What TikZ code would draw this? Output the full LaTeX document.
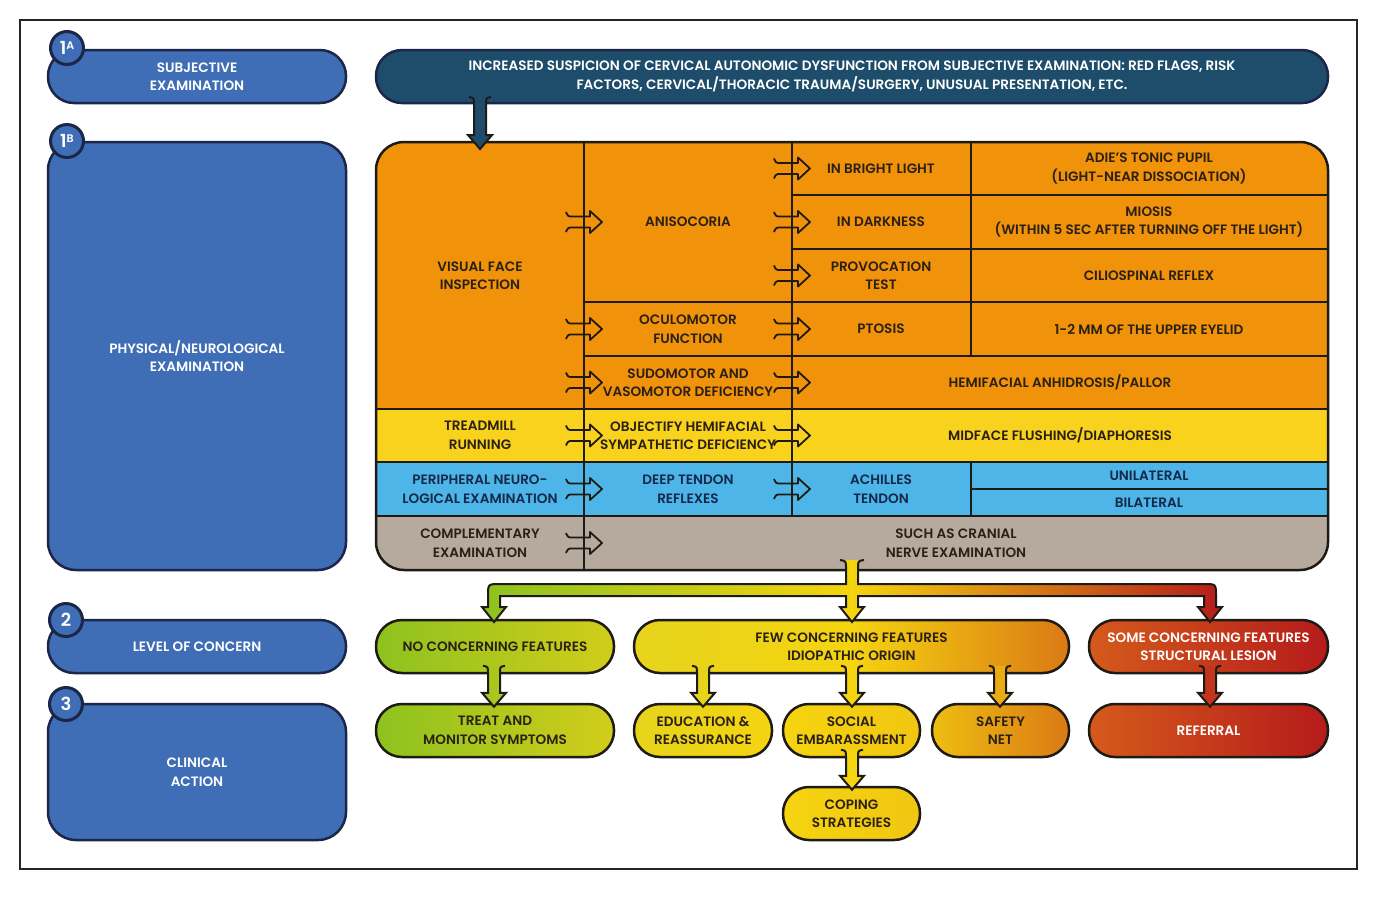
\documentclass[tikz,border=0pt]{standalone}
\usepackage{fontspec}
\setmainfont{Poppins}[BoldFont=* SemiBold]
\usetikzlibrary{calc}
\definecolor{lblue}{HTML}{3F6EB6}
\definecolor{navy}{HTML}{1B2648}
\definecolor{topteal}{HTML}{1E4D6B}
\definecolor{orng}{HTML}{F0920A}
\definecolor{yel}{HTML}{F8D21C}
\definecolor{sky}{HTML}{4EB5E8}
\definecolor{cgray}{HTML}{B5AA9D}
\definecolor{ink}{HTML}{2B2014}
\definecolor{skyink}{HTML}{14284A}
\definecolor{lineink}{HTML}{1E1A14}
\definecolor{cgreen}{HTML}{8DC21F}
\definecolor{cgreenR}{HTML}{D2CD1A}
\definecolor{cyelL}{HTML}{E6D41C}
\definecolor{cyel}{HTML}{F5D410}
\definecolor{corange}{HTML}{DA7A15}
\definecolor{credL}{HTML}{D55A1B}
\definecolor{cred}{HTML}{B51B1B}
\newcommand{\fs}{\bfseries\fontsize{13.6}{18.5}\selectfont}
\newcommand{\GArr}[1]{\draw[garrow,shift={#1}] (-18,-10) .. controls (-16,-5.5) .. (-11,-5.5) -- (6,-5.5) -- (6,-11) -- (18,0) -- (6,11) -- (6,5.5) -- (-11,5.5) .. controls (-16,5.5) .. (-18,10);}
\newcommand{\DArr}[3]{%
  \begin{scope}[shift={#1}]
  \fill[#2] (-11,-#3) .. controls (-6,-#3+1) .. (-6,-#3+7) -- (-6,-14) -- (-12,-14) -- (0,0) -- (12,-14) -- (6,-14) -- (6,-#3+7) .. controls (6,-#3+1) .. (11,-#3) -- cycle;
  \draw[arrline] (-11,-#3) .. controls (-6,-#3+1) .. (-6,-#3+7) -- (-6,-14) -- (-12,-14) -- (0,0) -- (12,-14) -- (6,-14) -- (6,-#3+7) .. controls (6,-#3+1) .. (11,-#3);
  \end{scope}}
\begin{document}
\begin{tikzpicture}[x=1pt,y=-1pt,
  lbox/.style={draw=navy, line width=2.5pt, fill=lblue, text=white, align=center, font=\fs, rounded corners=26pt, minimum width=298pt},
  badge/.style={circle, draw=navy, line width=3pt, fill=lblue, text=white, minimum size=33pt, inner sep=0pt, font=\bfseries\fontsize{18}{18}\selectfont},
  gt/.style={align=center, font=\fs, text=ink, inner sep=0pt},
  bt/.style={align=center, font=\fs, text=skyink, inner sep=0pt},
  gline/.style={draw=lineink, line width=2pt},
  gborder/.style={draw=lineink, line width=2.5pt},
  garrow/.style={draw=lineink, line width=1.8pt, line join=round},
  arrline/.style={draw=lineink, line width=2pt, line join=miter},
  cbox/.style={draw=lineink, line width=2.5pt, align=center, font=\fs, text=ink, rounded corners=26pt, minimum height=53pt},
]
\useasboundingbox (0,0) rectangle (1377,898);
\fill[white] (0,0) rectangle (1377,898);
\draw[line width=1.5pt, draw=black!85] (20,20) rectangle (1357,869);

% left column
\node[lbox, minimum height=53pt] (subj) at (197,76.5) {SUBJECTIVE\\EXAMINATION};
\node[lbox, minimum height=428pt, rounded corners=28pt] (phys) at (197,356) {PHYSICAL/NEUROLOGICAL\\EXAMINATION};
\node[lbox, minimum height=53pt] (loc) at (197,646.5) {LEVEL OF CONCERN};
\node[lbox, minimum height=136pt, rounded corners=28pt] (clin) at (197,772) {CLINICAL\\ACTION};
\node[badge] (b1a) at (67,48) {1\raisebox{5pt}{\fontsize{11}{11}\selectfont A}};
\node[badge] (b1b) at (67,141) {1\raisebox{5pt}{\fontsize{11}{11}\selectfont B}};
\node[badge] (b2) at (66,620) {2};
\node[badge] (b3) at (66,704) {3};

% top box
\node[draw=navy, line width=2.5pt, fill=topteal, text=white, align=center, font=\fs, rounded corners=26pt, minimum width=952pt, minimum height=53pt] (top) at (852,76.5)
 {INCREASED SUSPICION OF CERVICAL AUTONOMIC DYSFUNCTION FROM SUBJECTIVE EXAMINATION: RED FLAGS, RISK\\FACTORS, CERVICAL/THORACIC TRAUMA/SURGERY, UNUSUAL PRESENTATION, ETC.};

% grid
\begin{scope}
\clip[rounded corners=28pt] (376,142) rectangle (1328,570);
\fill[orng] (376,142) rectangle (1328,409);
\fill[yel] (376,409) rectangle (1328,462);
\fill[sky] (376,462) rectangle (1328,516);
\fill[cgray] (376,516) rectangle (1328,570);
\end{scope}
\draw[gline] (376,409) -- (1328,409);
\draw[gline] (376,462) -- (1328,462);
\draw[gline] (376,516) -- (1328,516);
\draw[gline] (584,142) -- (584,570);
\draw[gline] (792,142) -- (792,516);
\draw[gline] (971,142) -- (971,356);
\draw[gline] (971,462) -- (971,516);
\draw[gline] (792,195) -- (1328,195);
\draw[gline] (792,249) -- (1328,249);
\draw[gline] (584,302) -- (1328,302);
\draw[gline] (584,356) -- (1328,356);
\draw[gline] (971,489) -- (1328,489);
\draw[gborder, rounded corners=28pt] (376,142) rectangle (1328,570);
\coordinate (L1) at (584,142);
\coordinate (L2) at (792,142);

\node[gt] (vfi) at (480,275.5) {VISUAL FACE\\INSPECTION};
\node[gt] (aniso) at (688,222) {ANISOCORIA};
\node[gt] (bright) at (881,168.5) {IN BRIGHT LIGHT};
\node[gt] (adie) at (1149,168.5) {ADIE’S TONIC PUPIL\\(LIGHT-NEAR DISSOCIATION)};
\node[gt] (dark) at (881,222) {IN DARKNESS};
\node[gt] (miosis) at (1149,222) {MIOSIS\\(WITHIN 5 SEC AFTER TURNING OFF THE LIGHT)};
\node[gt] (provo) at (881,275.5) {PROVOCATION\\TEST};
\node[gt] (cilio) at (1149,275.5) {CILIOSPINAL REFLEX};
\node[gt] (oculo) at (688,329) {OCULOMOTOR\\FUNCTION};
\node[gt] (ptosis) at (881,329) {PTOSIS};
\node[gt] (eyelid) at (1149,329) {1-2 MM OF THE UPPER EYELID};
\node[gt] (sudo) at (688,382.5) {SUDOMOTOR AND\\VASOMOTOR DEFICIENCY};
\node[gt] (hemi) at (1060,382.5) {HEMIFACIAL ANHIDROSIS/PALLOR};
\node[gt] (tread) at (480,435.5) {TREADMILL\\RUNNING};
\node[gt] (objh) at (688,435.5) {OBJECTIFY HEMIFACIAL\\SYMPATHETIC DEFICIENCY};
\node[gt] (midf) at (1060,435.5) {MIDFACE FLUSHING/DIAPHORESIS};
\node[bt] (pne) at (480,489) {PERIPHERAL NEURO-\\LOGICAL EXAMINATION};
\node[bt] (dtr) at (688,489) {DEEP TENDON\\REFLEXES};
\node[bt] (achil) at (881,489) {ACHILLES\\TENDON};
\node[bt] (unil) at (1149,475.5) {UNILATERAL};
\node[bt] (bil) at (1149,502.5) {BILATERAL};
\node[gt] (compl) at (480,543) {COMPLEMENTARY\\EXAMINATION};
\node[gt] (cranial) at (956,543) {SUCH AS CRANIAL\\NERVE EXAMINATION};

\GArr{(L1 |- aniso)}
\GArr{(L1 |- oculo)}
\GArr{(L1 |- sudo)}
\GArr{(L1 |- objh)}
\GArr{(L1 |- dtr)}
\GArr{(L1 |- compl)}
\GArr{(L2 |- bright)}
\GArr{(L2 |- dark)}
\GArr{(L2 |- provo)}
\GArr{(L2 |- ptosis)}
\GArr{(L2 |- hemi)}
\GArr{(L2 |- midf)}
\GArr{(L2 |- achil)}

% top arrow into grid
\coordinate (gtop) at (480,149);
\DArr{(gtop)}{topteal}{52}

% level boxes
\node[cbox, minimum width=238pt, left color=cgreen, right color=cgreenR] (lvl1) at (495,646.5) {NO CONCERNING FEATURES};
\node[cbox, minimum width=435pt, left color=cyelL, right color=corange, middle color=cyel] (lvl2) at (851.5,646.5) {FEW CONCERNING FEATURES\\IDIOPATHIC ORIGIN};
\node[cbox, minimum width=239pt, left color=credL, right color=cred, text=white] (lvl3) at (1208.5,646.5) {SOME CONCERNING FEATURES\\STRUCTURAL LESION};
% action boxes
\node[cbox, minimum width=238pt, left color=cgreen, right color=cgreenR] (act1) at (495,730.5) {TREAT AND\\MONITOR SYMPTOMS};
\node[cbox, minimum width=138pt, left color=cyelL, right color=cyel] (edu) at (703,730.5) {EDUCATION \&\\REASSURANCE};
\node[cbox, minimum width=137pt, left color=cyel, right color=cyel!85!corange] (soc) at (851.5,730.5) {SOCIAL\\EMBARASSMENT};
\node[cbox, minimum width=137pt, left color=cyel!75!corange, right color=corange] (saf) at (1000.5,730.5) {SAFETY\\NET};
\node[cbox, minimum width=239pt, left color=credL, right color=cred, text=white] (ref) at (1208.5,730.5) {REFERRAL};
\node[cbox, minimum width=137pt, left color=cyel, right color=cyel!85!corange] (cop) at (851.5,813.5) {COPING\\STRATEGIES};

% branching arrow from grid to level boxes
\shade[left color=cgreen, right color=cred, middle color=cyel]
 (840,560) .. controls (846,561) .. (846,568) -- (846,584) -- (500,584) .. controls (488,584) .. (488,596) -- (488,607) -- (482,607) -- (494,622) -- (506,607) -- (500,607) -- (500,596) -- (846,596) -- (846,607) -- (840,607) -- (852,622) -- (864,607) -- (858,607) -- (858,596) -- (1204,596) -- (1204,607) -- (1198,607) -- (1210,622) -- (1222,607) -- (1216,607) -- (1216,596) .. controls (1216,584) .. (1204,584) -- (858,584) -- (858,568) .. controls (858,561) .. (864,560) -- cycle;
\draw[arrline]
 (840,560) .. controls (846,561) .. (846,568) -- (846,584) -- (500,584) .. controls (488,584) .. (488,596) -- (488,607) -- (482,607) -- (494,622) -- (506,607) -- (500,607) -- (500,596) -- (846,596) -- (846,607) -- (840,607) -- (852,622) -- (864,607) -- (858,607) -- (858,596) -- (1204,596) -- (1204,607) -- (1198,607) -- (1210,622) -- (1222,607) -- (1216,607) -- (1216,596) .. controls (1216,584) .. (1204,584) -- (858,584) -- (858,568) .. controls (858,561) .. (864,560);

% arrows level -> action
\DArr{($(act1.north)+(-1,4)$)}{cgreen!60!cgreenR}{41}
\DArr{($(edu.north)+(0,4)$)}{cyelL}{41}
\DArr{($(soc.north)+(0.5,4)$)}{cyel}{41}
\DArr{($(saf.north)+(-0.5,4)$)}{cyel!55!corange}{41}
\DArr{($(ref.north)+(1.5,4)$)}{credL!40!cred}{41}
\DArr{($(cop.north)+(0.5,4)$)}{cyel}{40}
\end{tikzpicture}
\end{document}
